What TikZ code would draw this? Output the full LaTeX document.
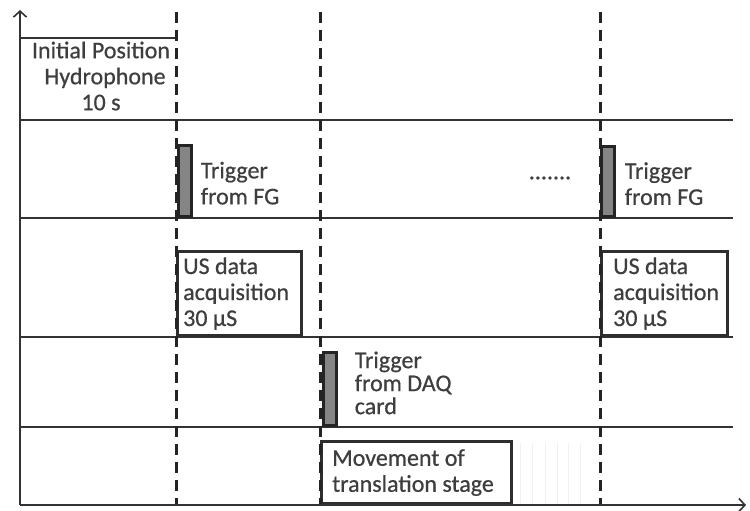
\documentclass[tikz,border=0pt]{standalone}
\usepackage{fontspec}
\setmainfont{Carlito}
\newfontfamily\lblfont[FakeBold=0.6]{Carlito}
\usetikzlibrary{positioning,arrows.meta}
\definecolor{ink}{HTML}{333333}
\definecolor{txt}{HTML}{3E3E3E}
\definecolor{pulsefill}{HTML}{858585}

\begin{document}
\begin{tikzpicture}[x=1pt,y=-1pt,
	axisline/.style={ink, line width=1.6pt, -{Straight Barb[length=6pt,width=13pt]}},
	rowline/.style={ink, line width=1.9pt},
	slot/.style={draw=ink!90!black, line width=2.8pt, fill=white, inner sep=0pt},
	pulse/.style={draw=ink!70!black, line width=2.6pt, fill=pulsefill, inner sep=0pt, minimum width=13pt},
	marker/.style={ink!70!black, line width=3pt, dash pattern=on 11pt off 7pt},
	lbl/.style={text=txt, font=\lblfont\fontsize{24}{26}\selectfont, align=left, inner sep=0pt}]
		\useasboundingbox (0,0) rectangle (750,511);

		\coordinate (origin) at (20,505);
		\coordinate (ytop) at (20,10);
		\coordinate (xend) at (746,505);

		\foreach \y in {120,218,337,427}
			\draw[rowline] (20,\y) -- (733,\y);
		\draw[rowline] (20,38) -- (176,38);

		\foreach \x in {520,532,545,557,568,580}
			\draw[gray!12, line width=0.6pt] (\x,443) -- (\x,505);

		\node[slot, anchor=south west, minimum width=124pt, minimum height=84pt] (us1) at (176,337) {};
		\node[slot, anchor=south west, minimum width=126pt, minimum height=84pt] (us2) at (600,337) {};
		\node[slot, anchor=south west, minimum width=190pt, minimum height=62pt] (move) at (320,505) {};

		\foreach \x in {176,320,600}
			\draw[marker] (\x,12) -- (\x,505);

		\node[pulse, anchor=south west, minimum height=71pt] (fg1) at (177,218) {};
		\node[pulse, anchor=south west, minimum height=70pt] (fg2) at (600,218) {};
		\node[pulse, anchor=south west, minimum height=73pt] (daq) at (322,427) {};

		\draw[axisline] (origin) -- (ytop);
		\draw[axisline] (origin) -- (xend);

		\node[lbl, align=center] (init) at (101,76) {Initial Position\\\hspace*{8pt}Hydrophone\\10 s};
		\node[lbl, right=8pt of fg1, yshift=-2pt] (fglbl1) {Trigger\\from FG};
		\node[lbl, right=9pt of fg2, yshift=-2pt] (fglbl2) {Trigger\\from FG};
		\node[lbl] (dots) at (550,178) {.......};
		\node[lbl, anchor=west] (uslbl1) at ([xshift=7pt]us1.west) {US data\\acquisition\\30 µS};
		\node[lbl, anchor=west] (uslbl2) at ([xshift=13pt]us2.west) {US data\\acquisition\\30 µS};
		\node[lbl, anchor=north west, font=\lblfont\fontsize{24}{23}\selectfont] (daqlbl) at ([xshift=17pt]daq.north east) {Trigger\\from DAQ\\card};
		\node[lbl, anchor=west] (movelbl) at ([xshift=12pt]move.west) {Movement of\\translation stage};
	\end{tikzpicture}
\end{document}
